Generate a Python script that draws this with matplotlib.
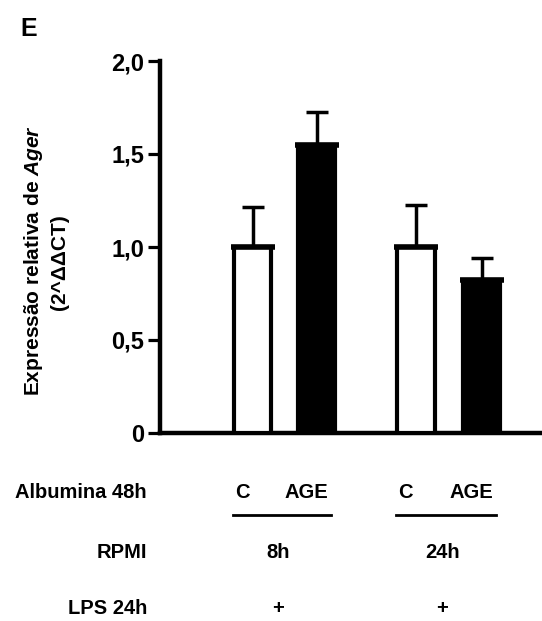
import matplotlib
matplotlib.use('Agg')
import matplotlib.pyplot as plt
import matplotlib.transforms as mtransforms

plt.rcParams['font.family'] = ['Liberation Sans', 'DejaVu Sans']
plt.rcParams['font.weight'] = 'bold'
plt.rcParams['mathtext.fontset'] = 'custom'
plt.rcParams['mathtext.it'] = 'Liberation Sans:italic:bold'
plt.rcParams['mathtext.rm'] = 'Liberation Sans:bold'

# Dados
grupos = ['C', 'AGE', 'C', 'AGE']
posicoes = [0, 1, 2.55, 3.58]
medias = [1.0, 1.55, 1.0, 0.82]
erros = [0.215, 0.175, 0.225, 0.12]
cores = ['white', 'black', 'white', 'black']
rpmi = ['8h', '24h']
lps = ['+', '+']
yticks = [0, 0.5, 1.0, 1.5, 2.0]
ytick_labels = ['0', '0,5', '1,0', '1,5', '2,0']

largura = 0.58

fig = plt.figure(figsize=(5.42, 6.21), dpi=100)
ax = fig.add_axes([160 / 542, 1 - 433 / 621, 1 - 160 / 542, (433 - 61) / 621])

ax.bar(posicoes, medias, width=largura, color=cores, edgecolor='black', linewidth=3, zorder=3)
ax.errorbar(posicoes, medias, yerr=[[0] * len(erros), erros], fmt='none', ecolor='black',
            elinewidth=2.5, capsize=8, capthick=2.5, zorder=2)
# linha grossa no topo das barras
for p, m in zip(posicoes, medias):
    ax.hlines(m, p - largura / 2 - 0.05, p + largura / 2 + 0.05, color='black', lw=4, zorder=4)

ax.set_xlim(-1.45, 4.52)
ax.set_ylim(0, 2.0)
ax.set_yticks(yticks)
ax.set_yticklabels(ytick_labels, fontsize=17, fontweight='bold')
ax.set_xticks([])
ax.tick_params(axis='y', length=8.5, width=2.3, pad=3)
ax.spines['top'].set_visible(False)
ax.spines['right'].set_visible(False)
ax.spines['left'].set_linewidth(3.2)
ax.spines['bottom'].set_linewidth(3.2)

# rótulo do eixo y
fig.text(34 / 542, 1 - 261 / 621, r'Expressão relativa de $\mathit{Ager}$', rotation=90,
         ha='center', va='center', fontsize=15, fontweight='bold')
fig.text(60 / 542, 1 - 262 / 621, '(2^ΔΔCT)', rotation=90,
         ha='center', va='center', fontsize=15, fontweight='bold')

fig.text(29 / 542, 1 - 29 / 621, 'E', ha='center', va='center', fontsize=18, fontweight='bold')

# tabela abaixo do gráfico
y_alb = 1 - 493 / 621
y_rpmi = 1 - 553 / 621
y_lps = 1 - 609 / 621
for txt, y in [('Albumina 48h', y_alb), ('RPMI', y_rpmi), ('LPS 24h', y_lps)]:
    fig.text(147 / 542, y, txt, ha='right', va='center', fontsize=14.5, fontweight='bold')

blend = mtransforms.blended_transform_factory(ax.transData, fig.transFigure)
for p, g in zip(posicoes, grupos):
    fig.text(p - 0.16, y_alb, g, transform=blend, ha='center', va='center',
             fontsize=14.5, fontweight='bold')

pares = [(posicoes[0], posicoes[1]), (posicoes[2], posicoes[3])]
y_linha = 1 - 515 / 621
for (a, b), r, l in zip(pares, rpmi, lps):
    fig.add_artist(plt.Line2D([a - 0.31, b + 0.22], [y_linha, y_linha], transform=blend,
                              color='black', lw=2))
    meio = (a + b) / 2 - 0.1
    fig.text(meio, y_rpmi, r, transform=blend, ha='center', va='center',
             fontsize=14.5, fontweight='bold')
    fig.text(meio, y_lps, l, transform=blend, ha='center', va='center',
             fontsize=14.5, fontweight='bold')

fig.savefig('out.png', dpi=100)
